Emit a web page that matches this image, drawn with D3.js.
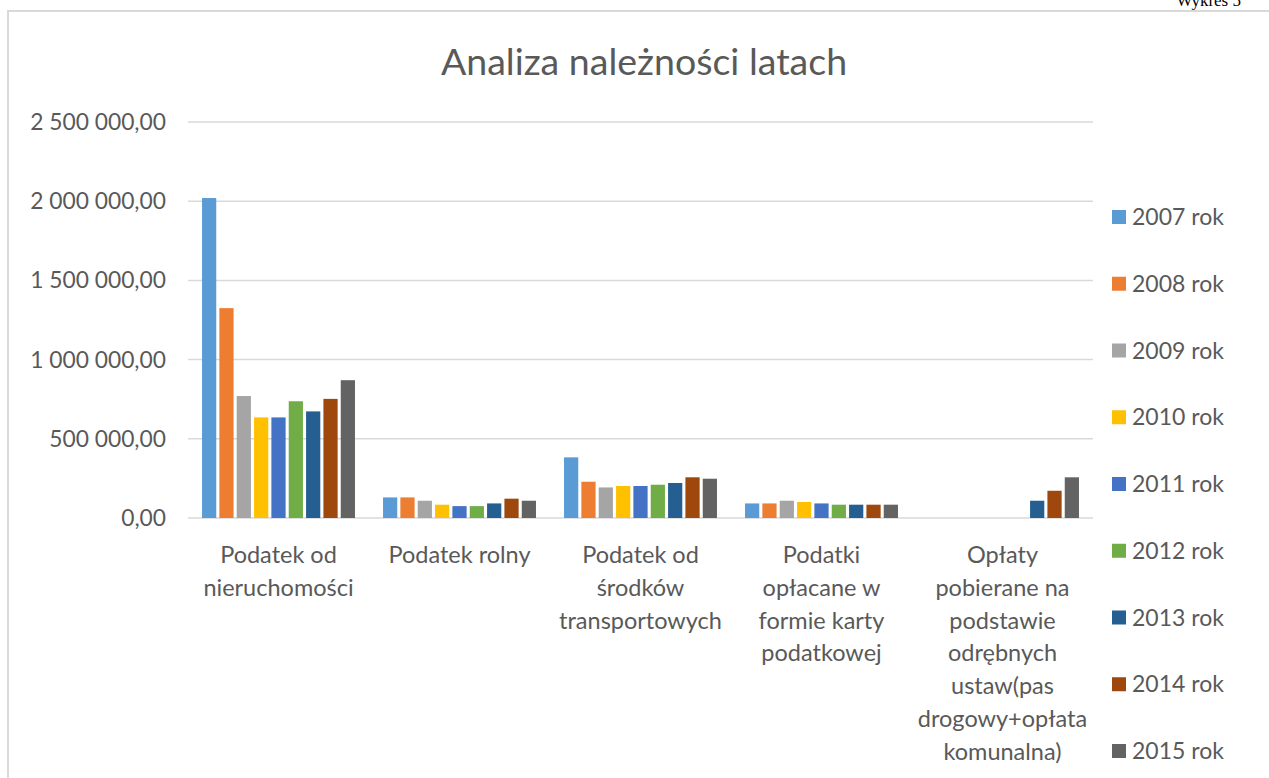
<!DOCTYPE html>
<html>
<head>
<meta charset="utf-8">
<script src="https://cdn.jsdelivr.net/npm/d3@7"></script>
<style>
    body { margin: 0; background: #fff; }
    svg { display: block; }
    text { font-family: Lato, "Open Sans", sans-serif; fill: #595959; }
</style>
</head>
<body>
<svg id="chart"></svg>
<script>
const width = 1269, height = 778;

// categories (line breaks as in the picture)
const categories = [
    "Podatek od\nnieruchomości",
    "Podatek rolny",
    "Podatek od\nśrodków\ntransportowych",
    "Podatki\nopłacane w\nformie karty\npodatkowej",
    "Opłaty\npobierane na\npodstawie\nodrębnych\nustaw(pas\ndrogowy+opłata\nkomunalna)"
];

const years = ["2007 rok", "2008 rok", "2009 rok", "2010 rok", "2011 rok", "2012 rok", "2013 rok", "2014 rok", "2015 rok"];
const colors = ["#5B9BD5", "#ED7D31", "#A5A5A5", "#FFC000", "#4472C4", "#70AD47", "#255E91", "#9E480E", "#636363"];

// values per category, one per year (null = no bar)
const nieruchomosci = [2020000, 1325000, 770000, 635000, 635000, 737000, 673000, 752000, 870000];
const rolny = [130000, 130000, 109000, 84000, 75000, 75000, 92000, 122000, 109000];
const transportowe = [383000, 229000, 193000, 202000, 202000, 210000, 221000, 257000, 248000];
const kartaPodatkowa = [92000, 92000, 109000, 101000, 92000, 84000, 84000, 84000, 84000];
const odrebneUstawy = [null, null, null, null, null, null, 109000, 172000, 257000];
const values = [nieruchomosci, rolny, transportowe, kartaPodatkowa, odrebneUstawy];

const yTicks = [0, 500000, 1000000, 1500000, 2000000, 2500000];

const svg = d3.select("#chart")
    .attr("width", width)
    .attr("height", height);

// chart frame
svg.append("rect")
    .attr("x", 8).attr("y", 11)
    .attr("width", 1400).attr("height", 900)
    .attr("fill", "#fff")
    .attr("stroke", "#d9d9d9")
    .attr("stroke-width", 2);

svg.append("text")
    .attr("x", 1241).attr("y", 6)
    .attr("text-anchor", "end")
    .style("font-family", "'Liberation Serif', serif")
    .style("fill", "#000")
    .style("font-size", "17px")
    .text("Wykres 5");

const plot = { left: 188, right: 1093, top: 122, bottom: 518 };

const x0 = d3.scaleBand()
    .domain(d3.range(categories.length))
    .range([plot.left, plot.right])
    .paddingInner(0.155)
    .paddingOuter(0.0775);

const x1 = d3.scaleBand()
    .domain(years)
    .range([0, x0.bandwidth()])
    .paddingInner(0.18);

const y = d3.scaleLinear()
    .domain([0, 2500000])
    .range([plot.bottom, plot.top]);

const pl = d3.formatLocale({ decimal: ",", thousands: " ", grouping: [3], currency: ["", " zł"] });
const fmt = pl.format(",.2f");

// gridlines
svg.append("g")
    .selectAll("line")
    .data(yTicks)
    .join("line")
    .attr("x1", plot.left).attr("x2", plot.right)
    .attr("y1", d => y(d)).attr("y2", d => y(d))
    .attr("stroke", "#d9d9d9")
    .attr("stroke-width", 1.5);

// y labels
svg.append("g")
    .selectAll("text")
    .data(yTicks)
    .join("text")
    .attr("x", 166)
    .attr("y", d => y(d))
    .attr("dy", "0.35em")
    .attr("text-anchor", "end")
    .style("font-size", "22.8px")
    .text(d => fmt(d));

// bars
const groups = svg.append("g")
    .selectAll("g")
    .data(values)
    .join("g")
    .attr("transform", (d, i) => `translate(${x0(i)},0)`);

groups.selectAll("rect")
    .data(d => d.map((v, j) => ({ v, j })).filter(e => e.v !== null))
    .join("rect")
    .attr("x", e => x1(years[e.j]))
    .attr("width", x1.bandwidth())
    .attr("y", e => y(e.v))
    .attr("height", e => y(0) - y(e.v))
    .attr("fill", e => colors[e.j]);

// category labels
svg.append("g")
    .selectAll("text")
    .data(categories)
    .join("text")
    .attr("x", (d, i) => x0(i) + x0.bandwidth() / 2)
    .attr("y", 563)
    .attr("text-anchor", "middle")
    .style("font-size", "23.5px")
    .each(function (d) {
        const t = d3.select(this);
        d.split("\n").forEach((line, k) => {
            t.append("tspan")
                .attr("x", t.attr("x"))
                .attr("dy", k === 0 ? 0 : 32.8)
                .text(line);
        });
    });

// title
svg.append("text")
    .attr("x", 644).attr("y", 75)
    .attr("text-anchor", "middle")
    .style("font-size", "37.5px")
    .text("Analiza należności latach");

// legend
const ly = d3.scalePoint().domain(years).range([217, 751]);
const legend = svg.append("g")
    .selectAll("g")
    .data(years)
    .join("g")
    .attr("transform", d => `translate(1112,${ly(d)})`);

legend.append("rect")
    .attr("x", 0).attr("y", -7)
    .attr("width", 14).attr("height", 14)
    .attr("fill", (d, i) => colors[i]);

legend.append("text")
    .attr("x", 20)
    .attr("dy", "0.35em")
    .style("font-size", "23px")
    .text(d => d);
</script>
</body>
</html>
